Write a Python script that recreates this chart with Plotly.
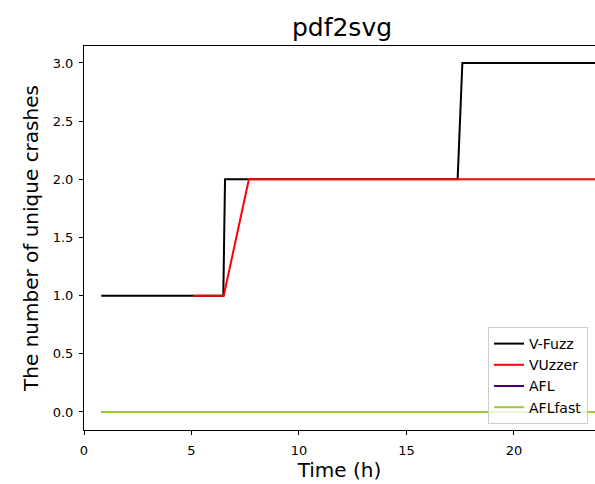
import plotly.graph_objects as go

# Data
vfuzz_t = [0.8, 6.48, 6.56, 17.38, 17.6, 24.0]
vfuzz_y = [1, 1, 2, 2, 3, 3]
vuzzer_t = [5.07, 6.5, 7.67, 24.0]
vuzzer_y = [1, 1, 2, 2]
afl_t = [0.8, 24.0]
afl_y = [0, 0]
aflfast_t = [0.8, 24.0]
aflfast_y = [0, 0]

x_ticks = [0, 5, 10, 15, 20]
y_ticks = [0.0, 0.5, 1.0, 1.5, 2.0, 2.5, 3.0]
y_tick_text = ["0.0", "0.5", "1.0", "1.5", "2.0", "2.5", "3.0"]

fig = go.Figure()
fig.add_trace(go.Scatter(x=vfuzz_t, y=vfuzz_y, mode="lines", name="V-Fuzz",
                         line=dict(color="black", width=2)))
fig.add_trace(go.Scatter(x=vuzzer_t, y=vuzzer_y, mode="lines", name="VUzzer",
                         line=dict(color="red", width=2)))
fig.add_trace(go.Scatter(x=afl_t, y=afl_y, mode="lines", name="AFL",
                         line=dict(color="indigo", width=2)))
fig.add_trace(go.Scatter(x=aflfast_t, y=aflfast_y, mode="lines", name="AFLfast",
                         line=dict(color="yellowgreen", width=2)))

fig.update_layout(
    width=595, height=484,
    paper_bgcolor="white", plot_bgcolor="white",
    font=dict(family="DejaVu Sans", color="black"),
    margin=dict(l=84, r=0, t=46, b=54, autoexpand=False),
    title=dict(text="pdf2svg", x=342 / 595, xanchor="center", xref="container",
               y=1 - 27 / 484, yanchor="middle", yref="container",
               font=dict(size=25, color="black")),
    showlegend=True,
    legend=dict(x=(488 - 84) / 511, xanchor="left", y=6 / 384, yanchor="bottom",
                bgcolor="rgba(255,255,255,0.8)", bordercolor="#cccccc", borderwidth=1,
                font=dict(size=14, color="black"), tracegroupgap=0,
                itemwidth=30),
)
fig.update_xaxes(range=[0, 23.77], tickvals=x_ticks, ticks="outside", ticklen=4,
                 tickcolor="black", showline=True, linecolor="black", linewidth=1,
                 mirror=True, showgrid=False, zeroline=False, automargin=False,
                 ticklabelstandoff=4,
                 tickfont=dict(size=13), title=dict(text="Time (h)", font=dict(size=20), standoff=6))
fig.update_yaxes(range=[-0.155, 3.146], tickvals=y_ticks, ticktext=y_tick_text,
                 ticks="outside", ticklen=4, tickcolor="black", showline=True,
                 linecolor="black", linewidth=1, mirror=False, showgrid=False,
                 zeroline=False, automargin=False, ticklabelstandoff=3,
                 tickfont=dict(size=13),
                 title=dict(text="The number of unique crashes", font=dict(size=20), standoff=8))

fig.write_html("out.html", config={"displayModeBar": False},
               post_script="document.body.style.margin='0px';document.body.style.overflow='hidden';")
